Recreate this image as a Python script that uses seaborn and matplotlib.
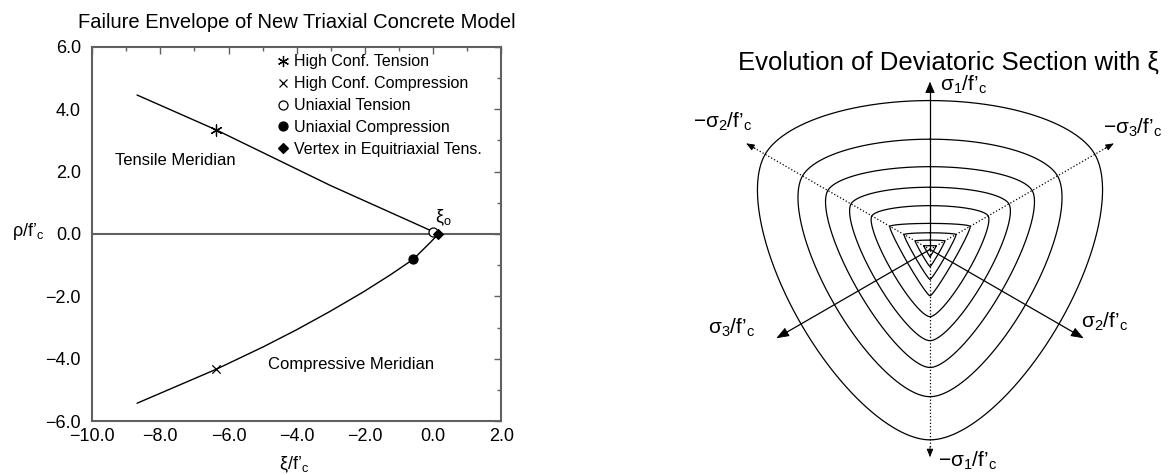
import numpy as np
import pandas as pd
import matplotlib
matplotlib.use("Agg")
import matplotlib.pyplot as plt
import seaborn as sns
from matplotlib.lines import Line2D
from matplotlib.ticker import MultipleLocator, FuncFormatter

# Meridians of the failure envelope (xi/f'c, rho/f'c)
tens_xi = [-8.68, -6.36, -3.02, 0.15]
tens_rho = [4.46, 3.34, 1.56, 0.0]
comp_xi = [-8.68, -6.36, -4.98, -4.00, -3.02, -2.05, -1.27, -0.585, -0.095, 0.15]
comp_rho = [-5.43, -4.34, -3.62, -3.07, -2.48, -1.86, -1.32, -0.81, -0.28, 0.0]

# Calibration points
point_labels = ["High Conf. Tension", "High Conf. Compression", "Uniaxial Tension",
                "Uniaxial Compression", "Vertex in Equitriaxial Tens."]
point_xi = [-6.36, -6.36, 0.0, -0.585, 0.15]
point_rho = [3.34, -4.34, 0.05, -0.81, 0.0]

# Deviatoric sections: tensile / compressive radii for decreasing confinement
sec_rt = [4.28, 3.17, 2.38, 1.79, 1.26, 0.75, 0.48, 0.27, 0.11]
sec_rc = [5.47, 4.23, 3.39, 2.62, 1.93, 1.33, 0.86, 0.49, 0.21]

xticks = [-10.0, -8.0, -6.0, -4.0, -2.0, 0.0, 2.0]
yticks = [-6.0, -4.0, -2.0, 0.0, 2.0, 4.0, 6.0]

sns.set_style("white")
plt.rcParams["font.family"] = ["Liberation Sans", "DejaVu Sans"]
plt.rcParams["mathtext.fontset"] = "custom"
plt.rcParams["mathtext.rm"] = "Liberation Sans"
plt.rcParams["mathtext.it"] = "Liberation Sans"
plt.rcParams["mathtext.default"] = "regular"
plt.rcParams["text.color"] = "black"
plt.rcParams["axes.labelcolor"] = "black"

W, H = 1175, 475
fig = plt.figure(figsize=(W / 100, H / 100), dpi=100)
GRAY = "#606060"

# ---------------- meridian plot ----------------
ax = fig.add_axes([92 / W, 54 / H, 409.5 / W, 374 / H])
ax.axhline(0, color=GRAY, lw=1.5, zorder=1)
sns.lineplot(x=tens_xi, y=tens_rho, sort=False, estimator=None, color="black", lw=1.0, ax=ax)
sns.lineplot(x=comp_xi, y=comp_rho, sort=False, estimator=None, color="black", lw=1.0, ax=ax)

marker_specs = [
    dict(marker=(6, 2, 0), mfc="black", mec="black", ms=8, mew=0.9),
    dict(marker="x", mfc="black", mec="black", ms=6, mew=0.9),
    dict(marker="o", mfc="white", mec="black", ms=6.5, mew=0.9),
    dict(marker="o", mfc="black", mec="black", ms=6.5, mew=0.9),
    dict(marker="D", mfc="black", mec="black", ms=5, mew=0.9),
]
handles = []
for xi, rho, spec, lab in zip(point_xi, point_rho, marker_specs, point_labels):
    filled = spec["marker"] in ("o", "D")
    sns.scatterplot(x=[xi], y=[rho], marker=spec["marker"], s=spec["ms"] ** 2,
                    color=spec["mfc"], edgecolor=spec["mec"] if filled else None,
                    linewidth=spec["mew"], ax=ax, zorder=4, legend=False)
    handles.append(Line2D([], [], ls="none", **spec))

ax.legend(handles, point_labels, loc="upper left", bbox_to_anchor=(0.451, 0.98),
          frameon=False, handlelength=0.8, handletextpad=0.3, labelspacing=0.43,
          fontsize=11.5, borderaxespad=0, borderpad=0)

ax.text(-9.33, 2.37, "Tensile Meridian", ha="left", va="center", fontsize=12)
ax.text(-4.84, -4.2, "Compressive Meridian", ha="left", va="center", fontsize=12)
ax.text(0.05, 0.18, "ξ$_o$", ha="left", va="bottom", fontsize=13)

ax.set_xlim(-10, 2)
ax.set_ylim(-6, 6)
ax.set_xticks(xticks)
ax.set_yticks(yticks)
ax.xaxis.set_minor_locator(MultipleLocator(1))
ax.yaxis.set_minor_locator(MultipleLocator(1))
fmt = FuncFormatter(lambda v, p: f"{v:.1f}".replace("-", "\u2212"))
ax.xaxis.set_major_formatter(fmt)
ax.yaxis.set_major_formatter(fmt)
ax.tick_params(which="both", direction="in", top=True, right=True, color=GRAY,
               width=1.0, labelsize=13, labelcolor="black")
ax.tick_params(which="major", length=5)
ax.tick_params(which="minor", length=3)
ax.tick_params(axis="x", pad=5)
ax.tick_params(axis="y", pad=8)
for s in ax.spines.values():
    s.set_color(GRAY)
    s.set_linewidth(1.5)
ax.set_xlabel("")
ax.set_ylabel("")

fig.text(296.75 / W, 1 - 28 / H, "Failure Envelope of New Triaxial Concrete Model",
         ha="center", va="baseline", fontsize=14.5)
fig.text(12 / W, 1 - 231 / H, "ρ/f’$_c$", ha="left", va="center", fontsize=13)
fig.text(294 / W, 1 - 469 / H, "ξ/f’$_c$", ha="center", va="baseline", fontsize=13)

# ---------------- deviatoric sections ----------------
def willam_warnke(rt, rc, theta):
    c = np.cos(theta)
    d = rc ** 2 - rt ** 2
    num = 2 * rc * d * c + rc * (2 * rt - rc) * np.sqrt(np.maximum(4 * d * c ** 2 + 5 * rt ** 2 - 4 * rt * rc, 0))
    den = 4 * d * c ** 2 + (rc - 2 * rt) ** 2
    return num / den

phi = np.linspace(0, 2 * np.pi, 1441)
t = np.mod(phi, 2 * np.pi / 3)
theta = np.where(t <= np.pi / 3, t, 2 * np.pi / 3 - t)
frames = []
for k, (rt, rc) in enumerate(zip(sec_rt, sec_rc)):
    r = willam_warnke(rt, rc, theta)
    frames.append(pd.DataFrame({"x": r * np.sin(phi), "y": r * np.cos(phi), "section": k}))
sections = pd.concat(frames, ignore_index=True)

S = 34.8  # pixels per unit
cx, cy = 930, 249.5
xl = (-6.5, 6.5)
yl = (-6.4, 5.8)
ax2 = fig.add_axes([(cx + xl[0] * S) / W, (H - (cy - yl[0] * S)) / H,
                    (xl[1] - xl[0]) * S / W, (yl[1] - yl[0]) * S / H])
sns.lineplot(data=sections, x="x", y="y", units="section", estimator=None, sort=False,
             color="black", lw=0.9, ax=ax2, legend=False)
ax2.set_xlim(*xl)
ax2.set_ylim(*yl)
ax2.axis("off")


def stress_axis(angle_deg, length, ls, head):
    a = np.deg2rad(angle_deg)
    ux, uy = np.cos(a), np.sin(a)
    ax2.plot([0, (length - 0.15) * ux], [0, (length - 0.15) * uy], color="black", lw=0.9, ls=ls)
    ax2.annotate("", xy=(length * ux, length * uy), xytext=((length - 0.3) * ux, (length - 0.3) * uy),
                 arrowprops=dict(arrowstyle=f"-|>,head_length={head[0]},head_width={head[1]}",
                                 color="black", lw=0.6, shrinkA=0, shrinkB=0,
                                 mutation_scale=10))


stress_axis(90, 4.82, "-", (0.7, 0.3))
stress_axis(-30, 5.1, "-", (0.8, 0.3))
stress_axis(210, 5.1, "-", (0.8, 0.3))
stress_axis(-90, 5.97, ":", (0.5, 0.2))
stress_axis(150, 6.1, ":", (0.5, 0.2))
stress_axis(30, 6.1, ":", (0.5, 0.2))

lab_kw = dict(fontsize=15, va="center")
ax2.text(0.29, 4.73, "σ$_1$/f’$_c$", ha="left", **lab_kw)
ax2.text(-5.11, 3.66, "−σ$_2$/f’$_c$", ha="right", **lab_kw)
ax2.text(4.97, 3.49, "−σ$_3$/f’$_c$", ha="left", **lab_kw)
ax2.text(-5.69, -2.26, "σ$_3$/f’$_c$", ha="center", **lab_kw)
ax2.text(5.03, -2.08, "σ$_2$/f’$_c$", ha="center", **lab_kw)
ax2.text(0.23, -6.08, "−σ$_1$/f’$_c$", ha="left", **lab_kw)

fig.text(948.5 / W, 1 - 70 / H, "Evolution of Deviatoric Section with ξ",
         ha="center", va="baseline", fontsize=18.5)

fig.savefig("out.png", dpi=100)
